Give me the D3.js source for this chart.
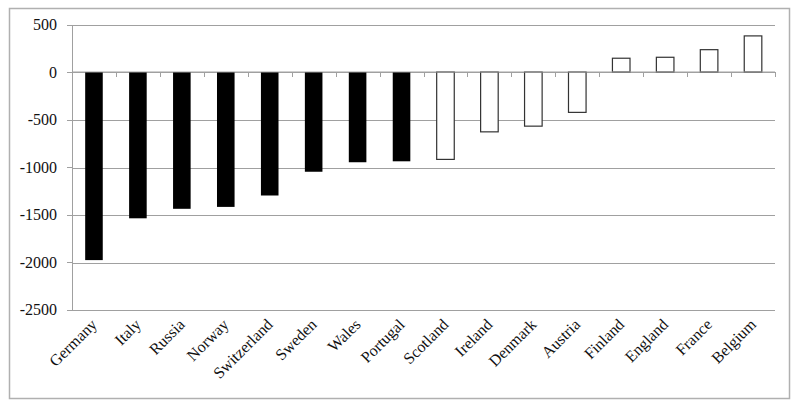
<!DOCTYPE html>
<html>
<head>
<meta charset="utf-8">
<script src="https://cdn.jsdelivr.net/npm/d3@7/dist/d3.min.js"></script>
<style>
  body { margin: 0; background: #fff; }
  svg { font-family: "Liberation Serif", "Times New Roman", serif; }
  .grid line { stroke: #a0a0a0; shape-rendering: crispEdges; }
  .axis path, .axis line { stroke: #a0a0a0; shape-rendering: crispEdges; }
  .axis text { fill: #111; font-size: 16px; }
</style>
</head>
<body>
<svg id="chart" width="800" height="407"></svg>
<script>
// countries, sorted as in the source figure
var countries = ["Germany", "Italy", "Russia", "Norway", "Switzerland", "Sweden", "Wales", "Portugal",
                 "Scotland", "Ireland", "Denmark", "Austria", "Finland", "England", "France", "Belgium"];
var values = [-1980, -1540, -1440, -1420, -1300, -1050, -950, -940,
              -920, -630, -570, -425, 145, 155, 235, 380];
// countries drawn with solid bars
var solid = ["Germany", "Italy", "Russia", "Norway", "Switzerland", "Sweden", "Wales", "Portugal"];
var yTicks = [500, 0, -500, -1000, -1500, -2000, -2500];

var serif = "'Liberation Serif', 'Times New Roman', serif";
var svg = d3.select("#chart");
var margin = {top: 24.5, right: 25, bottom: 97.5, left: 72};
var width = 800 - margin.left - margin.right;
var height = 407 - margin.top - margin.bottom;

// outer frame
svg.append("rect")
    .attr("x", 9.5).attr("y", 8.5)
    .attr("width", 780).attr("height", 390)
    .attr("fill", "none").attr("stroke", "#b0b0b0").attr("stroke-width", 1.5);

var g = svg.append("g").attr("transform", "translate(" + margin.left + "," + margin.top + ")");

var x = d3.scaleBand().domain(countries).range([0, width]).paddingInner(0.6).paddingOuter(0.3);
var y = d3.scaleLinear().domain([-2500, 500]).range([height, 0]);

// gridlines
g.append("g").attr("class", "grid")
    .selectAll("line").data(yTicks).enter().append("line")
    .attr("x1", 0).attr("x2", width)
    .attr("y1", function(d) { return Math.round(y(d)) + 0.5; })
    .attr("y2", function(d) { return Math.round(y(d)) + 0.5; });

// y axis (plain hyphen minus, serif font)
var yAxis = g.append("g").attr("class", "axis")
    .call(d3.axisLeft(y).tickValues(yTicks).tickSize(5).tickPadding(10).tickFormat(function(d) { return "" + d; }));
yAxis.attr("font-family", serif).attr("font-size", 16);
yAxis.selectAll("text").style("font-family", serif);
yAxis.select(".domain").attr("d", "M0.5," + y(500) + "V" + y(-2500));

// bars
g.append("g").selectAll("rect").data(countries).enter().append("rect")
    .attr("x", function(d) { return x(d); })
    .attr("width", x.bandwidth())
    .attr("y", function(d, i) { return y(Math.max(0, values[i])); })
    .attr("height", function(d, i) { return Math.abs(y(values[i]) - y(0)); })
    .attr("fill", function(d) { return solid.indexOf(d) >= 0 ? "#000" : "#fff"; })
    .attr("stroke", function(d) { return solid.indexOf(d) >= 0 ? "none" : "#333"; })
    .attr("stroke-width", 1.2);

// category ticks on the zero line, at band boundaries
var edges = d3.range(countries.length + 1).map(function(i) { return i * width / countries.length; });
g.append("g").attr("class", "axis")
    .selectAll("line").data(edges).enter().append("line")
    .attr("x1", function(d) { return Math.round(d) + 0.5; })
    .attr("x2", function(d) { return Math.round(d) + 0.5; })
    .attr("y1", y(0)).attr("y2", y(0) + 5);

// zero line drawn on top of bars
g.append("line")
    .attr("x1", 0).attr("x2", width)
    .attr("y1", Math.round(y(0)) + 0.5).attr("y2", Math.round(y(0)) + 0.5)
    .attr("stroke", "#a0a0a0");

// rotated category labels below the plot
g.append("g").attr("class", "axis")
    .selectAll("text").data(countries).enter().append("text")
    .style("font-family", serif)
    .attr("text-anchor", "end")
    .attr("transform", function(d) {
        var cx = x(d) + x.bandwidth() / 2 + 4;
        return "translate(" + cx + "," + (height + 16) + ") rotate(-45)";
    })
    .text(function(d) { return d; });
</script>
</body>
</html>
